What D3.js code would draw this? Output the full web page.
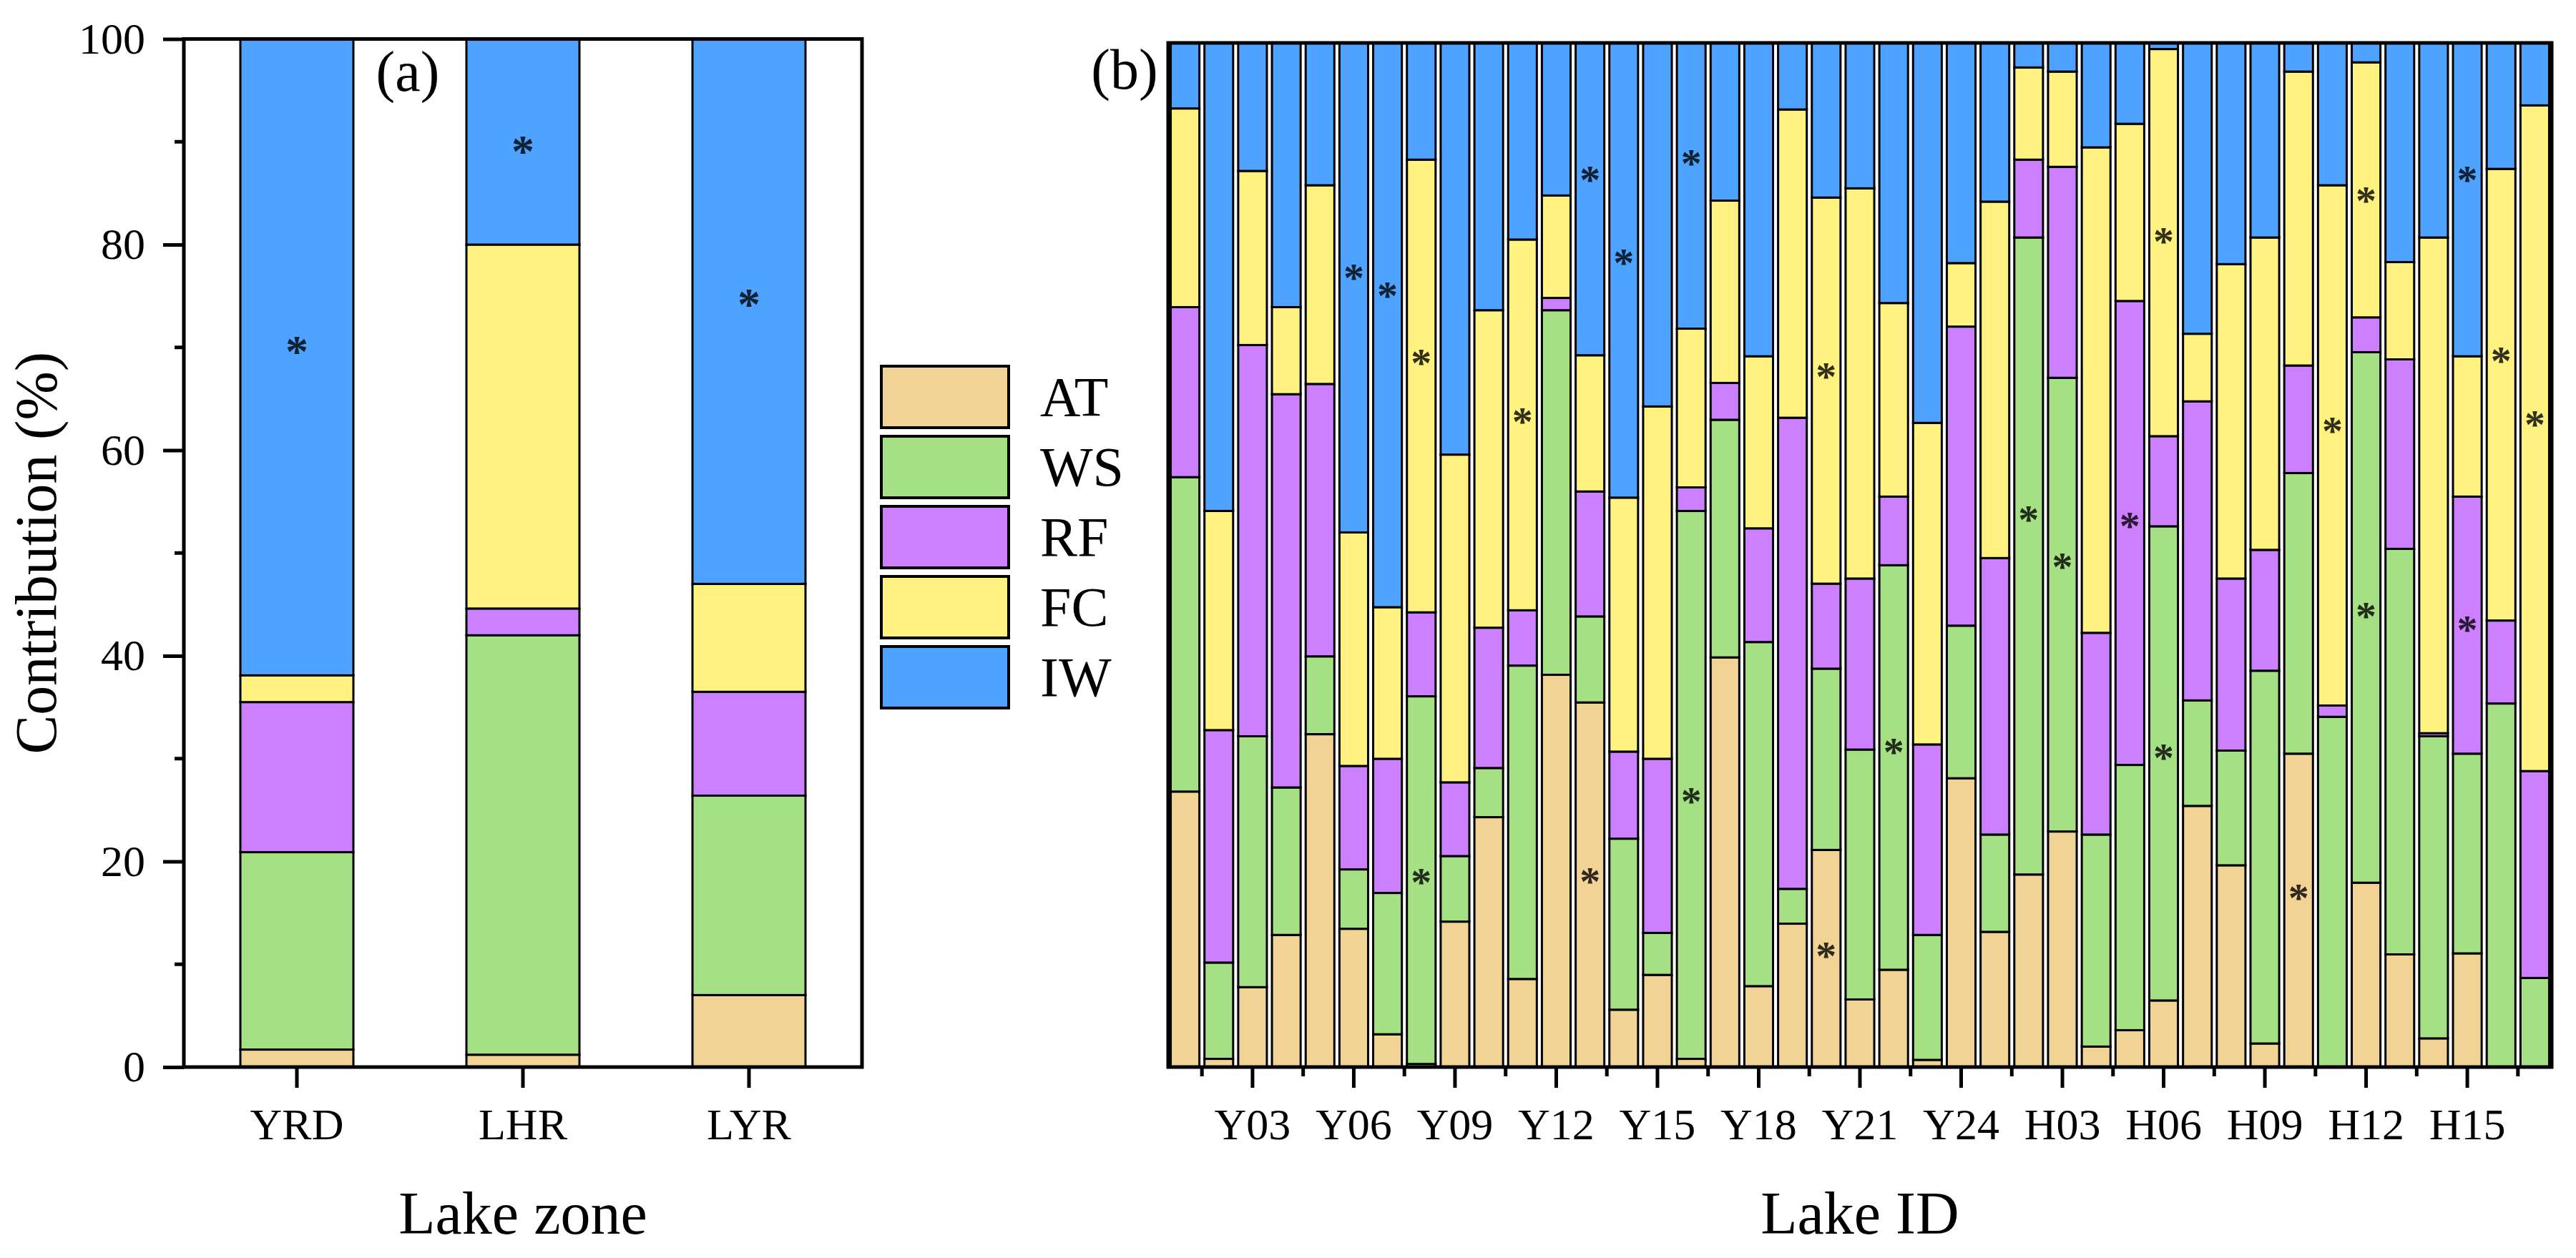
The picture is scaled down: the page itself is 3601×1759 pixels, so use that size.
<!DOCTYPE html>
<html>
<head>
<meta charset="utf-8">
<script src="https://cdn.jsdelivr.net/npm/d3@7"></script>
<style>
body { margin: 0; background: #fff; }
svg { display: block; }
text { font-family: "Liberation Serif", "Times New Roman", serif; fill: #000; }
</style>
</head>
<body>
<svg id="chart" width="3601" height="1759"></svg>
<script>
// stacking order, bottom to top
var factors = ["AT", "WS", "RF", "FC", "IW"];
var colors = ["#F2D396", "#A6E085", "#CC80FF", "#FFF280", "#4DA3FF"];

// panel (a): lake zones
var zones = ["YRD", "LHR", "LYR"];
var zoneAT = [1.7, 1.2, 7.0];
var zoneWS = [19.2, 40.8, 19.4];
var zoneRF = [14.6, 2.6, 10.1];
var zoneFC = [2.6, 35.4, 10.5];
var zoneIW = [61.9, 20.0, 53.0];
var zoneStarName = ["YRD", "LHR", "LYR"];
var zoneStarPos = [70.3, 89.8, 74.9];

// panel (b): lakes
var lakes = ["Y01","Y02","Y03","Y04","Y05","Y06","Y07","Y08","Y09","Y10","Y11","Y12",
             "Y13","Y14","Y15","Y16","Y17","Y18","Y19","Y20","Y21","Y22","Y23","Y24",
             "H01","H02","H03","H04","H05","H06","H07","H08","H09","H10","H11","H12",
             "H13","H14","H15","H16","H17"];
var lakeAT = [26.9,0.8,7.8,12.9,32.5,13.5,3.2,0.3,14.2,24.4,8.6,38.3,35.6,5.6,9.0,0.8,40.0,7.9,14.0,21.2,6.6,9.5,0.7,28.2,
              13.2,18.8,23.0,2.0,3.6,6.5,25.5,19.7,2.3,30.6,0,18.0,11.0,2.8,11.1,0,0];
var lakeWS = [30.7,9.4,24.5,14.4,7.6,5.8,13.8,35.9,6.4,4.8,30.6,35.6,8.4,16.7,4.1,53.5,23.2,33.6,3.4,17.7,24.4,39.5,12.2,14.9,
              9.5,62.2,44.3,20.7,25.9,46.3,10.3,11.2,36.4,27.4,34.2,51.8,39.6,29.5,19.5,35.5,8.7];
var lakeRF = [16.6,22.7,38.2,38.4,26.6,10.1,13.1,8.2,7.2,13.7,5.4,1.2,12.2,8.5,17.0,2.3,3.6,11.1,46.0,8.3,16.7,6.7,18.6,29.2,
              27.0,7.6,20.6,19.7,45.3,8.8,29.2,16.8,11.8,10.5,1.1,3.4,18.5,0.3,25.1,8.1,20.2];
var lakeFC = [19.4,21.4,17.0,8.5,19.4,22.8,14.8,44.2,32.0,31.0,36.2,10.0,13.3,24.8,34.4,15.5,17.8,16.8,30.1,37.7,38.1,18.9,31.4,6.2,
              34.8,9.0,9.3,47.4,17.3,37.8,6.6,30.7,30.5,28.7,50.8,24.9,9.5,48.4,13.7,44.1,65.0];
var lakeIW = [6.4,45.7,12.5,25.8,13.9,47.8,55.1,11.4,40.2,26.1,19.2,14.9,30.5,44.4,35.5,27.9,15.4,30.6,6.5,15.1,14.2,25.4,37.1,21.5,
              15.5,2.4,2.8,10.2,7.9,0.6,28.4,21.6,19.0,2.8,13.9,1.9,21.4,19.0,30.6,12.3,6.1];
var lakeTicks = ["Y03","Y06","Y09","Y12","Y15","Y18","Y21","Y24","H03","H06","H09","H12","H15"];
var starLake = ["Y06","Y07","Y08","Y08","Y11","Y13","Y13","Y14","Y16","Y16","Y20","Y20","Y22",
                "H02","H03","H05","H06","H06","H10","H11","H12","H12","H15","H15","H16","H17"];
var starPos = [77.7,76.0,69.4,18.7,63.7,87.3,18.8,79.2,88.9,26.6,68.1,11.5,31.4,
               54.1,49.5,53.5,81.3,30.9,17.2,62.8,85.3,44.7,87.3,43.4,69.6,63.4];

var svg = d3.select("#chart");
var color = d3.scaleOrdinal().domain(factors).range(colors);

function rows(names, cols) {
    return names.map(function(n, i) {
        var r = {name: n};
        factors.forEach(function(f, k) { r[f] = cols[k][i]; });
        return r;
    });
}
var stack = d3.stack().keys(factors);
var zoneLayers = stack(rows(zones, [zoneAT, zoneWS, zoneRF, zoneFC, zoneIW]));
var lakeLayers = stack(rows(lakes, [lakeAT, lakeWS, lakeRF, lakeFC, lakeIW]));

function starColor(layers, idx, v) {
    var c = colors[4];
    layers.forEach(function(layer, k) {
        var d = layer[idx];
        if (v >= d[0] && v < d[1]) c = colors[k];
    });
    return d3.interpolateRgb(c, "#000")(0.8);
}

function styleAxis(g, size) {
    g.select(".domain").remove();
    g.selectAll(".tick line").attr("stroke", "#000").attr("stroke-width", 5);
    g.selectAll(".tick text")
        .style("font-family", "'Liberation Serif', 'Times New Roman', serif")
        .style("font-size", size + "px");
}

// ---------- panel (a) ----------
var xa = d3.scaleBand().domain(zones).range([257, 1205]).paddingInner(0.5).paddingOuter(0.25);
var ya = d3.scaleLinear().domain([0, 100]).range([1492, 54.5]);

var pa = svg.append("g");
pa.selectAll(".layer").data(zoneLayers).enter().append("g")
    .attr("fill", function(d) { return color(d.key); })
    .selectAll("rect").data(function(d) { return d; }).enter().append("rect")
    .attr("x", function(d) { return xa(d.data.name); })
    .attr("y", function(d) { return ya(d[1]); })
    .attr("width", xa.bandwidth())
    .attr("height", function(d) { return ya(d[0]) - ya(d[1]); })
    .attr("stroke", "#000").attr("stroke-width", 3);

pa.selectAll(".star").data(zoneStarName).enter().append("text")
    .attr("x", function(d) { return xa(d) + xa.bandwidth() / 2; })
    .attr("y", function(d, i) { return ya(zoneStarPos[i]) + 32; })
    .attr("text-anchor", "middle")
    .style("font-size", "64px").style("font-weight", "bold")
    .style("fill", function(d, i) { return starColor(zoneLayers, zones.indexOf(d), zoneStarPos[i]); })
    .text("*");

pa.append("g").attr("transform", "translate(0,1492)")
    .call(d3.axisBottom(xa).tickSize(29).tickPadding(28))
    .call(function(g) { styleAxis(g, 62); });

pa.append("g").attr("transform", "translate(257,0)")
    .call(d3.axisLeft(ya).tickValues([0, 20, 40, 60, 80, 100]).tickSize(29).tickPadding(25))
    .call(function(g) { styleAxis(g, 62); });

pa.selectAll(".minor").data([10, 30, 50, 70, 90]).enter().append("line")
    .attr("x1", 257).attr("x2", 244)
    .attr("y1", function(d) { return ya(d); }).attr("y2", function(d) { return ya(d); })
    .attr("stroke", "#000").attr("stroke-width", 5);

pa.append("rect").attr("x", 257).attr("y", ya(100))
    .attr("width", 1205 - 257).attr("height", ya(0) - ya(100))
    .attr("fill", "none").attr("stroke", "#000").attr("stroke-width", 5);

pa.append("text").attr("x", 570).attr("y", 127).attr("text-anchor", "middle")
    .style("font-size", "80px").text("(a)");

pa.append("text").attr("x", 731).attr("y", 1725).attr("text-anchor", "middle")
    .style("font-size", "84px").text("Lake zone");

pa.append("text").attr("transform", "translate(78," + ((ya(0) + ya(100)) / 2) + ") rotate(-90)")
    .attr("text-anchor", "middle").style("font-size", "82px").text("Contribution (%)");

// ---------- legend ----------
var legend = svg.append("g").selectAll("g").data(factors).enter().append("g")
    .attr("transform", function(d, i) { return "translate(1232," + (512 + i * 98) + ")"; });
legend.append("rect").attr("width", 178).attr("height", 86)
    .attr("fill", function(d) { return color(d); })
    .attr("stroke", "#000").attr("stroke-width", 4);
legend.append("text").attr("x", 222).attr("y", 43 + 26)
    .style("font-size", "78px").text(function(d) { return d; });

// ---------- panel (b) ----------
var xb = d3.scaleBand().domain(lakes).range([1633, 3567]).paddingInner(0.15).paddingOuter(0.075);
var yb = d3.scaleLinear().domain([0, 100]).range([1492, 60]);

var pb = svg.append("g");
pb.selectAll(".layer").data(lakeLayers).enter().append("g")
    .attr("fill", function(d) { return color(d.key); })
    .selectAll("rect").data(function(d) { return d; }).enter().append("rect")
    .attr("x", function(d) { return xb(d.data.name); })
    .attr("y", function(d) { return yb(d[1]); })
    .attr("width", xb.bandwidth())
    .attr("height", function(d) { return yb(d[0]) - yb(d[1]); })
    .attr("stroke", "#000").attr("stroke-width", 3);

pb.selectAll(".star").data(starLake).enter().append("text")
    .attr("x", function(d) { return xb(d) + xb.bandwidth() / 2; })
    .attr("y", function(d, i) { return yb(starPos[i]) + 29; })
    .attr("text-anchor", "middle")
    .style("font-size", "58px").style("font-weight", "bold")
    .style("fill", function(d, i) { return starColor(lakeLayers, lakes.indexOf(d), starPos[i]); })
    .text("*");

pb.append("g").attr("transform", "translate(0,1492)")
    .call(d3.axisBottom(xb).tickValues(lakeTicks).tickSize(29).tickPadding(28))
    .call(function(g) { styleAxis(g, 62); });

// minor ticks halfway between labelled lakes
var minorLakes = lakeTicks.concat(["H18"]).map(function(d, i) { return i; });
pb.selectAll(".minor").data(minorLakes).enter().append("line")
    .attr("x1", function(i) { return xb(lakes[0]) + xb.bandwidth() / 2 + xb.step() * (0.5 + 3 * i); })
    .attr("x2", function(i) { return xb(lakes[0]) + xb.bandwidth() / 2 + xb.step() * (0.5 + 3 * i); })
    .attr("y1", 1492).attr("y2", 1505)
    .attr("stroke", "#000").attr("stroke-width", 5);

pb.append("rect").attr("x", 1633).attr("y", yb(100))
    .attr("width", 3567 - 1633).attr("height", yb(0) - yb(100))
    .attr("fill", "none").attr("stroke", "#000").attr("stroke-width", 5);

pb.append("text").attr("x", 1572).attr("y", 124).attr("text-anchor", "middle")
    .style("font-size", "80px").text("(b)");

pb.append("text").attr("x", 2600).attr("y", 1725).attr("text-anchor", "middle")
    .style("font-size", "84px").text("Lake ID");
</script>
</body>
</html>
